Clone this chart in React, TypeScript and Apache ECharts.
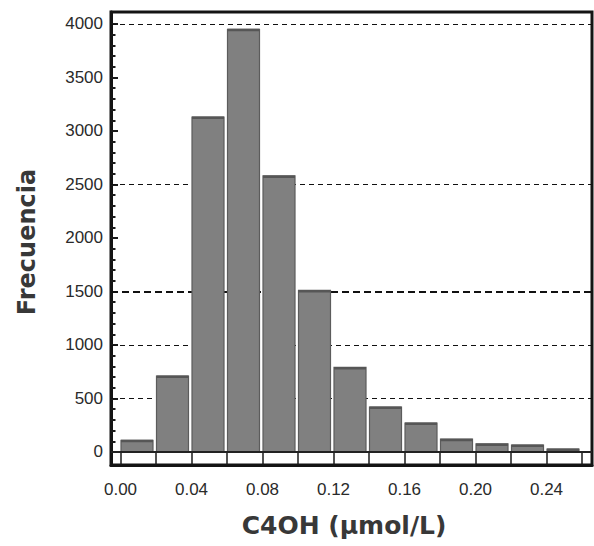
import React, { useEffect, useRef } from "react";
import * as echarts from "echarts";

// Histogram of C4OH concentration (µmol/L): bin edges and counts per bin
const binEdges = [0, 0.02, 0.04, 0.06, 0.08, 0.1, 0.12, 0.14, 0.16, 0.18, 0.2, 0.22, 0.24, 0.26];
const frequencies = [110, 710, 3130, 3950, 2580, 1510, 790, 420, 270, 120, 75, 65, 28];

// Axis ticks and labels
const xTickLabels = [0, 0.04, 0.08, 0.12, 0.16, 0.2, 0.24];
const yTickLabels = [0, 500, 1000, 1500, 2000, 2500, 3000, 3500, 4000];
const yMinorTicks = [
  100, 200, 300, 400, 600, 700, 800, 900, 1100, 1200, 1300, 1400, 1600, 1700, 1800, 1900,
  2100, 2200, 2300, 2400, 2600, 2700, 2800, 2900, 3100, 3200, 3300, 3400, 3600, 3700, 3800, 3900,
];
const gridValues = [500, 1000, 1500, 2500, 4000];

const X_MIN = -0.00535;
const X_MAX = 0.26563;
const Y_MIN = -121.5;
const Y_MAX = 4112;

const tickFont = '"Liberation Sans", Arial, sans-serif';
const titleFont = '"DejaVu Sans", Verdana, sans-serif';

export default function App() {
  const ref = useRef<HTMLDivElement>(null);

  useEffect(() => {
    if (!ref.current) return;
    const chart = echarts.init(ref.current, undefined, { renderer: "svg" });

    const bins = frequencies.map((f, i) => [binEdges[i], binEdges[i + 1], f]);

    const option: any = {
      animation: false,
      backgroundColor: "#ffffff",
      grid: {
        left: 111,
        right: 2,
        top: 12,
        bottom: 81,
        show: true,
        borderColor: "#141414",
        borderWidth: 3,
        backgroundColor: "transparent",
      },
      xAxis: {
        type: "value",
        min: X_MIN,
        max: X_MAX,
        axisLine: { show: true, onZero: false, lineStyle: { color: "#141414", width: 3 } },
        axisTick: {
          show: true,
          inside: true,
          length: 13,
          customValues: binEdges,
          lineStyle: { color: "#1a1a1a", width: 1.5 },
        },
        axisLabel: {
          show: true,
          customValues: xTickLabels,
          formatter: (v: number) => v.toFixed(2),
          margin: 16,
          fontFamily: tickFont,
          fontSize: 17,
          color: "#2a2a2a",
        },
        splitLine: { show: false },
      },
      yAxis: [
        {
          type: "value",
          min: Y_MIN,
          max: Y_MAX,
          position: "left",
          axisLine: { show: true, onZero: false, lineStyle: { color: "#141414", width: 3 } },
          axisTick: {
            show: true,
            inside: true,
            length: 7,
            customValues: yTickLabels,
            lineStyle: { color: "#1a1a1a", width: 2 },
          },
          axisLabel: {
            show: true,
            customValues: yTickLabels,
            formatter: (v: number) => String(v),
            margin: 8,
            fontFamily: tickFont,
            fontSize: 17,
            color: "#2a2a2a",
          },
          splitLine: { show: false },
        },
        {
          type: "value",
          min: Y_MIN,
          max: Y_MAX,
          position: "left",
          axisLine: { show: false, onZero: false },
          axisTick: {
            show: true,
            inside: true,
            length: 4.5,
            customValues: yMinorTicks,
            lineStyle: { color: "#1a1a1a", width: 2 },
          },
          axisLabel: { show: false },
          splitLine: { show: false },
        },
      ],
      series: [
        {
          // carries the dashed reference lines behind the bars
          type: "scatter",
          data: bins.map((b) => [(b[0] + b[1]) / 2, b[2]]),
          symbolSize: 0,
          silent: true,
          z: 1,
          markLine: {
            silent: true,
            symbol: "none",
            z: 1,
            label: { show: false },
            data: gridValues.map((v) => ({
              yAxis: v,
              lineStyle: {
                color: "#111111",
                width: v === 1500 ? 1.8 : 1,
                type: v === 1500 ? [7, 4] : [5, 4],
              },
            })),
          },
        },
        {
          type: "custom",
          z: 5,
          data: bins,
          encode: { x: [0, 1], y: 2 },
          renderItem: (params: any, api: any) => {
            const x0 = api.value(0);
            const x1 = api.value(1);
            const v = api.value(2);
            const pTop = api.coord([x0, v]);
            const pBase = api.coord([x1, 0]);
            const left = pTop[0] + 0.5;
            const right = pBase[0] - 3;
            const top = pTop[1];
            const bottom = pBase[1];
            return {
              type: "group",
              children: [
                {
                  type: "rect",
                  shape: { x: left, y: top, width: right - left, height: bottom - top },
                  style: { fill: "#808080", stroke: "#5c5c5c", lineWidth: 1.2 },
                },
                {
                  type: "rect",
                  shape: { x: left, y: top - 0.5, width: right - left, height: 2.5 },
                  style: { fill: "#565656" },
                },
              ],
            };
          },
        },
        {
          // zero baseline across the plot
          type: "scatter",
          data: [],
          symbolSize: 0,
          silent: true,
          z: 8,
          markLine: {
            silent: true,
            symbol: "none",
            z: 8,
            label: { show: false },
            data: [{ yAxis: 0, lineStyle: { color: "#222222", width: 2, type: "solid" } }],
          },
        },
      ],
      graphic: [
        {
          type: "text",
          x: 27,
          y: 242,
          rotation: Math.PI / 2,
          style: {
            text: "Frecuencia",
            fontFamily: titleFont,
            fontWeight: "bold",
            fontSize: 24,
            fill: "#383838",
            align: "center",
            verticalAlign: "middle",
          },
        },
        {
          type: "text",
          x: 344,
          y: 525,
          style: {
            text: "C4OH (µmol/L)",
            fontFamily: titleFont,
            fontWeight: "bold",
            fontSize: 25,
            fill: "#383838",
            align: "center",
            verticalAlign: "middle",
          },
        },
      ],
    };

    chart.setOption(option);
    return () => chart.dispose();
  }, []);

  return (
    <div
      ref={ref}
      style={{ position: "fixed", left: 0, top: 0, width: 594, height: 546, background: "#fff" }}
    />
  );
}
